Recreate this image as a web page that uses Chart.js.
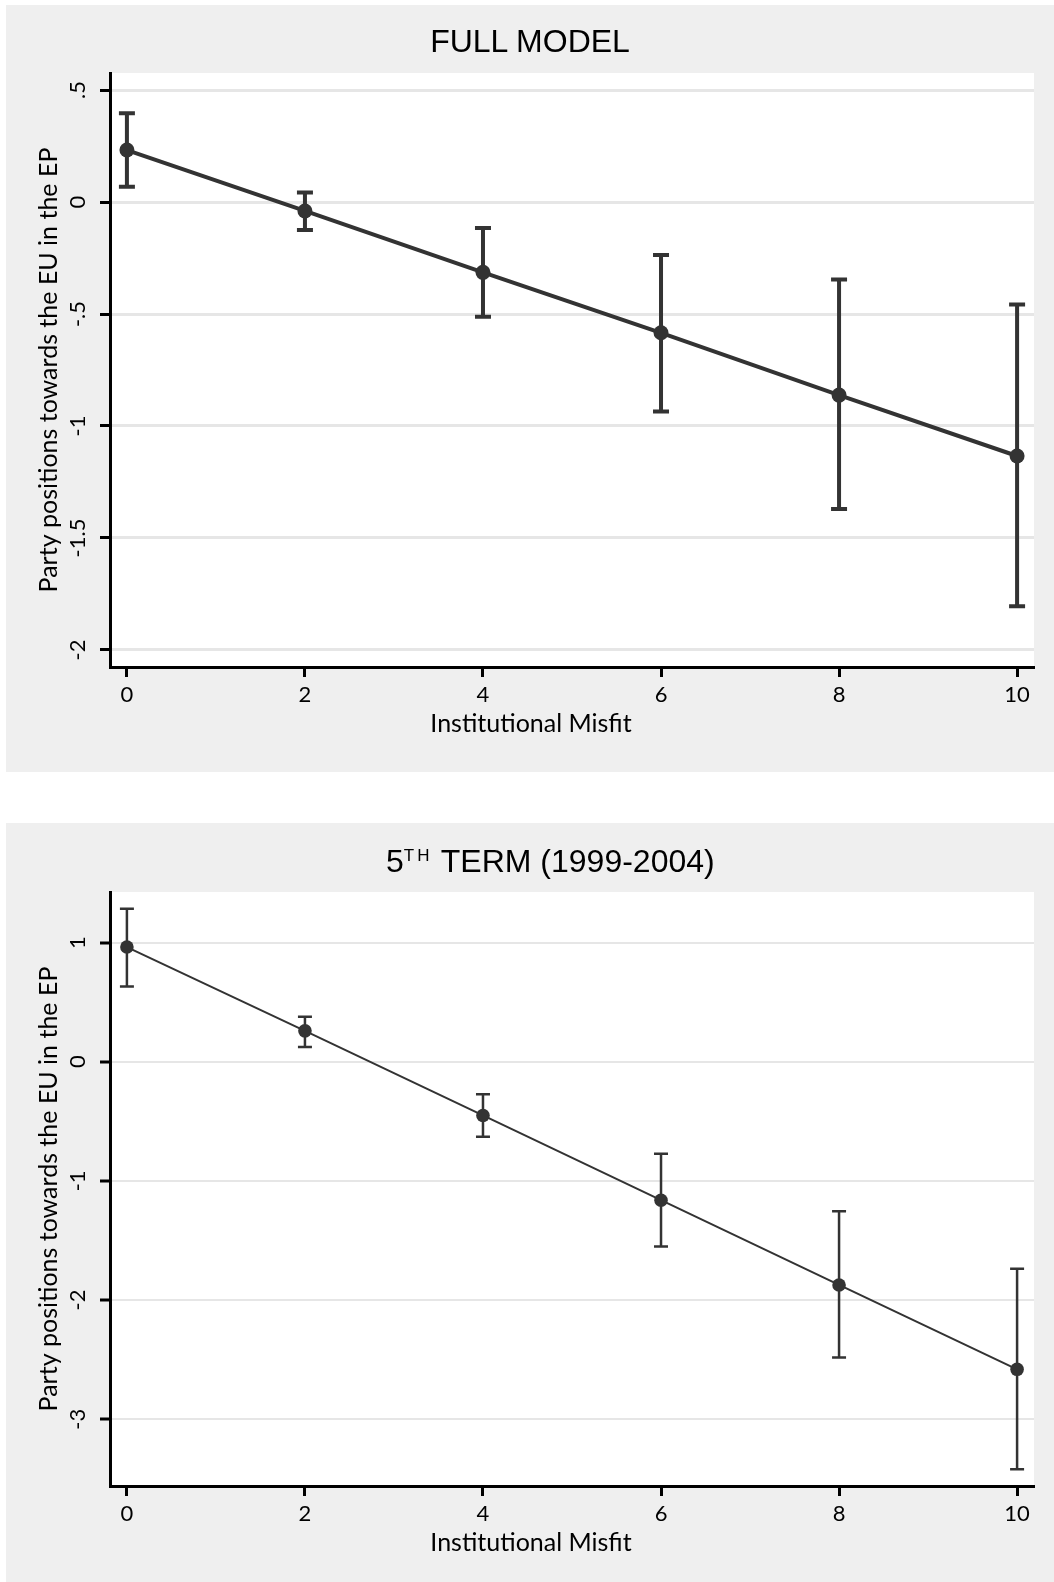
<!DOCTYPE html>
<html><head><meta charset="utf-8">
<script src="https://cdn.jsdelivr.net/npm/chart.js"></script>
<style>
html,body{margin:0;padding:0;background:#fff;width:1054px;height:1582px;overflow:hidden}
.panel{position:absolute;background:#efefef;}
.panel canvas{position:absolute;left:0;top:0}
.title{position:absolute;font-family:'Liberation Sans',Arial,sans-serif;font-size:32px;color:#000;white-space:nowrap;line-height:1}
.title sup{font-size:17px;vertical-align:11px;letter-spacing:3px;line-height:0}
.xtitle{position:absolute;left:0;width:1050px;text-align:center;font-family:Lato,sans-serif;font-size:25px;line-height:30px;color:#000;white-space:nowrap}
</style></head><body>
<div class="panel" id="p1" style="left:6px;top:5px;width:1048px;height:767px">
  <canvas id="c1" width="1048" height="767"></canvas>
  <div class="title" style="left:0;width:1048px;text-align:center;top:20px">FULL MODEL</div>
  <div class="xtitle" id="x1" style="top:702px"></div>
</div>
<div class="panel" id="p2" style="left:6px;top:823px;width:1048px;height:759px">
  <canvas id="c2" width="1048" height="759"></canvas>
  <div class="title" style="left:380px;top:22px">5<sup>TH</sup> TERM (1999-2004)</div>
  <div class="xtitle" id="x2" style="top:703px"></div>
</div>
<script>
// ---- data ----
const misfit = [0, 2, 4, 6, 8, 10];
const xTicks = [0, 2, 4, 6, 8, 10];

const fullEst = [0.232, -0.040, -0.314, -0.584, -0.862, -1.134];
const fullLo  = [0.068, -0.125, -0.512, -0.935, -1.371, -1.805];
const fullHi  = [0.396,  0.043, -0.116, -0.237, -0.346, -0.458];
const fullYTicks = [-2, -1.5, -1, -0.5, 0, 0.5];

const termEst = [0.962, 0.259, -0.451, -1.162, -1.873, -2.581];
const termLo  = [0.632, 0.124, -0.629, -1.551, -2.482, -3.420];
const termHi  = [1.283, 0.378, -0.273, -0.773, -1.255, -1.737];
const termYTicks = [-3, -2, -1, 0, 1];

const xTitle = 'Institutional Misfit';
const yTitle = 'Party positions towards the EU in the EP';

document.getElementById('x1').textContent = xTitle;
document.getElementById('x2').textContent = xTitle;

// ---- helpers ----
function stataLabel(v) {
  let s = String(Math.round(v * 100) / 100);
  return s.replace(/^0\./, '.').replace(/^-0\./, '-.');
}

const plotBg = {
  id: 'plotBg',
  beforeDraw(chart) {
    const {ctx, chartArea: a} = chart;
    ctx.save(); ctx.fillStyle = '#ffffff';
    ctx.fillRect(a.left, a.top, a.right - a.left, a.bottom - a.top);
    ctx.restore();
  }
};

const errorBars = {
  id: 'errorBars',
  beforeDatasetsDraw(chart, args, o) {
    const {ctx} = chart; const x = chart.scales.x, y = chart.scales.y;
    ctx.save();
    ctx.strokeStyle = o.color; ctx.lineWidth = o.width; ctx.lineCap = 'butt';
    o.xs.forEach((xv, i) => {
      const px = x.getPixelForValue(xv);
      const pl = y.getPixelForValue(o.lo[i]), ph = y.getPixelForValue(o.hi[i]);
      ctx.beginPath();
      ctx.moveTo(px, pl); ctx.lineTo(px, ph);
      ctx.moveTo(px - o.cap, pl); ctx.lineTo(px + o.cap, pl);
      ctx.moveTo(px - o.cap, ph); ctx.lineTo(px + o.cap, ph);
      ctx.stroke();
    });
    ctx.restore();
  }
};

const FONT = "Lato";
const INK = '#333333';

function makeChart(id, est, lo, hi, yTicks, c) {
  return new Chart(document.getElementById(id), {
    type: 'line',
    data: {
      datasets: [{
        data: misfit.map((m, i) => ({x: m, y: est[i]})),
        borderColor: INK, backgroundColor: INK,
        borderWidth: c.lineW,
        pointRadius: c.pointR, pointBorderWidth: 0,
        pointBackgroundColor: INK, tension: 0
      }]
    },
    plugins: [plotBg, errorBars],
    options: {
      responsive: false, animation: false,
      layout: {padding: {top: c.top, left: 0, right: 20, bottom: c.bottom}},
      plugins: {
        legend: {display: false}, tooltip: {enabled: false}, title: {display: false},
        errorBars: {xs: misfit, lo: lo, hi: hi, color: INK, width: c.barW, cap: c.cap}
      },
      scales: {
        x: {
          type: 'linear', min: -0.19, max: 10.19,
          afterBuildTicks: s => { s.ticks = xTicks.map(v => ({value: v})); },
          afterFit: s => { s.height = 96; s.paddingLeft = 0; s.paddingRight = 0; },
          grid: {drawOnChartArea: false, drawTicks: true, tickLength: 10, tickColor: '#000', tickWidth: 3},
          border: {display: true, color: '#000', width: 3},
          ticks: {font: {family: FONT, size: 22}, color: '#000', padding: 5, maxRotation: 0, minRotation: 0,
                  callback: v => stataLabel(v)},
          title: {display: false}
        },
        y: {
          type: 'linear', min: c.yMin, max: c.yMax,
          afterBuildTicks: s => { s.ticks = yTicks.map(v => ({value: v})); },
          afterFit: s => { s.width = 104; s.paddingTop = 0; s.paddingBottom = 0; },
          grid: {drawOnChartArea: true, color: '#e6e6e6', lineWidth: c.gridW,
                 drawTicks: true, tickLength: 10, tickColor: '#000', tickWidth: 3},
          border: {display: true, color: '#000', width: 3},
          ticks: {font: {family: FONT, size: 22}, color: '#000', padding: c.tickPad,
                  minRotation: 90, maxRotation: 90, crossAlign: 'center',
                  callback: v => stataLabel(v)},
          title: {display: true, text: yTitle, font: {family: FONT, size: 25}, color: '#000',
                  padding: {top: 28, bottom: 0}}
        }
      }
    }
  });
}

makeChart('c1', fullEst, fullLo, fullHi, fullYTicks,
  {yMin: -2.076, yMax: 0.576, lineW: 4, barW: 4, pointR: 7.5, cap: 8, gridW: 3, top: 68, bottom: 9, tickPad: 3});
makeChart('c2', termEst, termLo, termHi, termYTicks,
  {yMin: -3.56, yMax: 1.424, lineW: 2, barW: 2.5, pointR: 6.8, cap: 7, gridW: 2, top: 69, bottom: 0, tickPad: 12});
</script>
</body></html>
